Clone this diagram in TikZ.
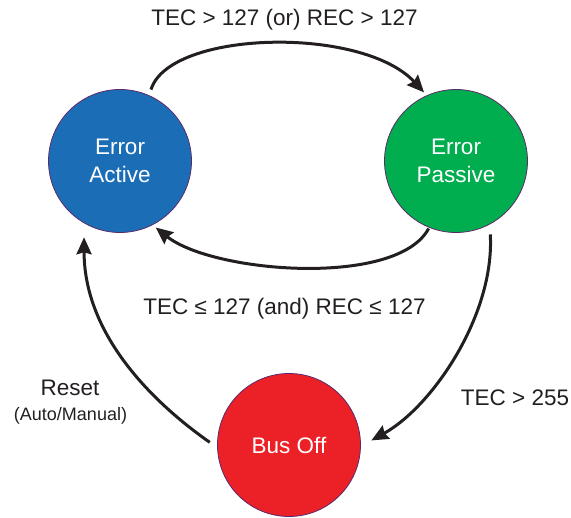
\documentclass[tikz,border=0pt]{standalone}
\usepackage{fontspec}
\setmainfont{Liberation Sans}
\usetikzlibrary{arrows.meta}

\definecolor{stblue}{HTML}{1B6DB6}
\definecolor{stgreen}{HTML}{00AD4F}
\definecolor{stred}{HTML}{EC2027}
\definecolor{stedge}{HTML}{5B2A6B}
\definecolor{lbl}{HTML}{231F20}

\tikzset{
  state/.style={circle, minimum size=143pt, inner sep=0pt, draw=stedge,
    line width=0.8pt, text=white, align=center,
    font=\fontsize{22.5}{28}\selectfont},
  trans/.style={line width=3pt, draw=lbl,
    -{Stealth[length=17pt,width=15pt,inset=2pt]}},
  cond/.style={text=lbl, anchor=base, inner sep=0pt,
    font=\fontsize{22.5}{27}\selectfont},
  condsmall/.style={text=lbl, anchor=base, inner sep=0pt,
    font=\fontsize{18}{22}\selectfont}
}

\begin{document}
\begin{tikzpicture}[x=1pt, y=-1pt]
  \useasboundingbox (0,0) rectangle (571,518);

  % states
  \node[state, fill=stblue]  (ea) at (120,161) {Error\\Active};
  \node[state, fill=stgreen] (ep) at (456,161) {Error\\Passive};
  \node[state, fill=stred]   (bo) at (289,445) {Bus Off};

  % transitions
  \draw[trans, shorten <=6pt, shorten >=4pt]
    (ea.66) .. controls +(20,-65) and +(-65,-70) .. (ep.114);
  \draw[trans, shorten <=1pt, shorten >=4pt]
    (ep.248) .. controls +(-32,60) and +(60,48) .. (ea.297);
  \draw[trans, shorten <=10pt, shorten >=12pt]
    (ep.298) .. controls +(5,90) and +(72,-40) .. (bo.-1);
  \draw[trans, shorten <=9pt, shorten >=14pt]
    (bo.182) .. controls +(-50,-35) and +(0,120) .. (ea.240);

  % conditions
  \node[cond] (c1) at (284.5,25.5) {TEC > 127 (or) REC > 127};
  \node[cond] (c2) at (284.5,315) {TEC ≤ 127 (and) REC ≤ 127};
  \node[cond] (c3) at (515,406) {TEC > 255};
  \node[cond] (c4) at (70,396) {Reset};
  \node[condsmall] (c5) at (70.5,420.5) {(Auto/Manual)};
\end{tikzpicture}
\end{document}
